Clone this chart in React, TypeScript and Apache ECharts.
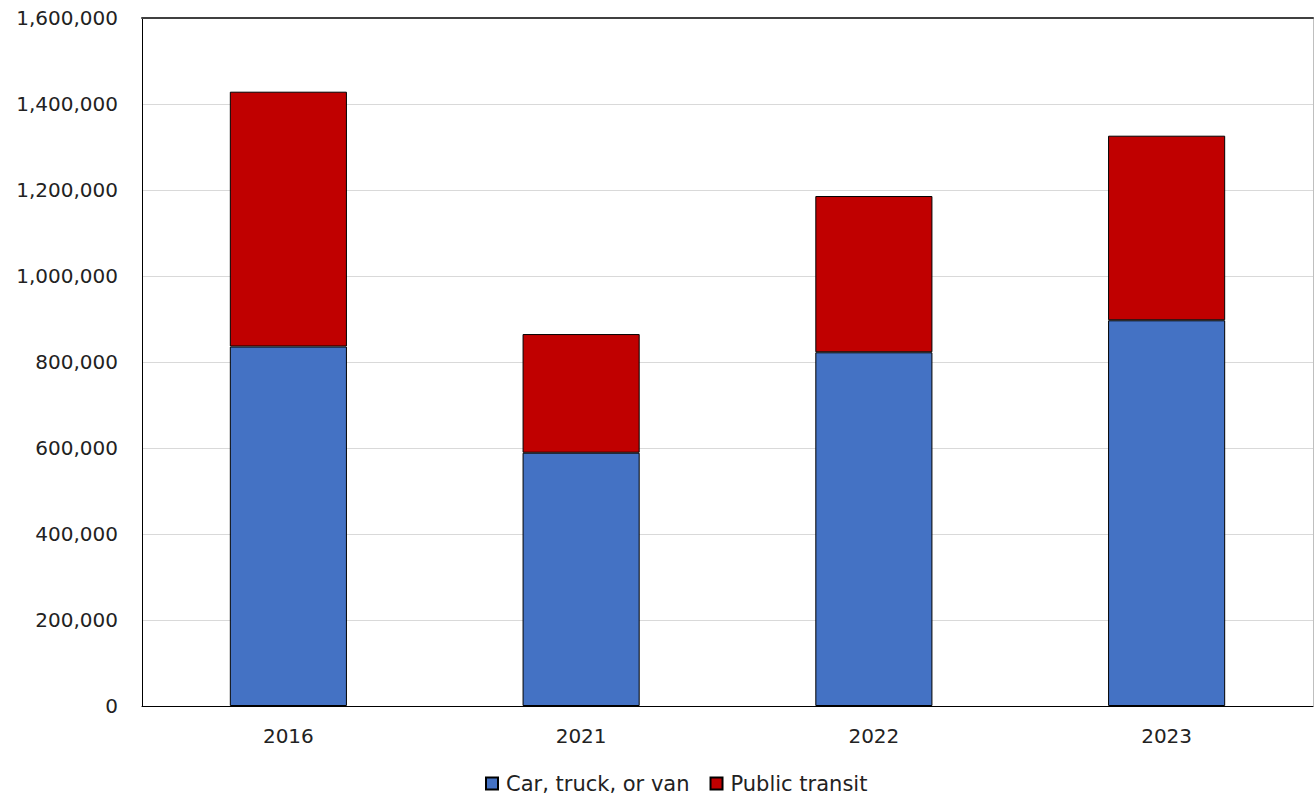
import React, { useEffect, useRef } from "react";
import * as echarts from "echarts";

const categories = ["2016", "2021", "2022", "2023"];
const carTruckVan = [836000, 589000, 822600, 897000];
const publicTransit = [592600, 276000, 363400, 429300];
const seriesNames = ["Car, truck, or van", "Public transit"];

const FONT = "DejaVu Sans";

export default function App() {
  const ref = useRef<HTMLDivElement>(null);
  useEffect(() => {
    const chart = echarts.init(ref.current!, null, { renderer: "svg" });
    chart.setOption({
      animation: false,
      textStyle: { fontFamily: FONT },
      grid: { left: 142, right: 1, top: 18, bottom: 92, containLabel: false },
      legend: {
        top: 768,
        left: 480,
        itemWidth: 12,
        itemHeight: 12,
        itemGap: 20,
        icon: "rect",
        textStyle: { fontFamily: FONT, fontSize: 21, color: "#222", padding: [0, 0, 0, 3] },
        data: seriesNames,
      },
      xAxis: [
        {
          type: "category",
          data: categories,
          axisLine: { lineStyle: { color: "#000", width: 1 } },
          axisTick: { show: false },
          axisLabel: { fontFamily: FONT, fontSize: 20, color: "#222", margin: 20 },
        },
        {
          type: "category",
          data: categories,
          position: "top",
          axisLine: { show: true, onZero: false, lineStyle: { color: "#404040", width: 2 } },
          axisTick: { show: false },
          axisLabel: { show: false },
        },
      ],
      yAxis: [
        {
          type: "value",
          min: 0,
          max: 1600000,
          interval: 200000,
          axisLine: { show: true, lineStyle: { color: "#000", width: 1 } },
          axisTick: { show: false },
          splitLine: { lineStyle: { color: "#d9d9d9", width: 1 } },
          axisLabel: {
            fontFamily: FONT,
            fontSize: 20,
            color: "#222",
            margin: 24,
            formatter: (v: number) => v.toLocaleString("en-US"),
          },
        },
        {
          type: "value",
          min: 0,
          max: 1600000,
          interval: 200000,
          position: "right",
          axisLine: { show: true, lineStyle: { color: "#bfbfbf", width: 1 } },
          axisTick: { show: false },
          axisLabel: { show: false },
          splitLine: { show: false },
        },
      ],
      series: [
        {
          name: seriesNames[0],
          type: "bar",
          stack: "total",
          data: carTruckVan,
          barWidth: "40%",
          itemStyle: { color: "#4472c4", borderColor: "#000", borderWidth: 1 },
        },
        {
          name: seriesNames[1],
          type: "bar",
          stack: "total",
          data: publicTransit,
          barWidth: "40%",
          itemStyle: { color: "#c00000", borderColor: "#000", borderWidth: 1 },
        },
      ],
    });
    return () => chart.dispose();
  }, []);
  return <div ref={ref} style={{ width: 1314, height: 798, position: "absolute", left: 0, top: 0 }} />;
}
